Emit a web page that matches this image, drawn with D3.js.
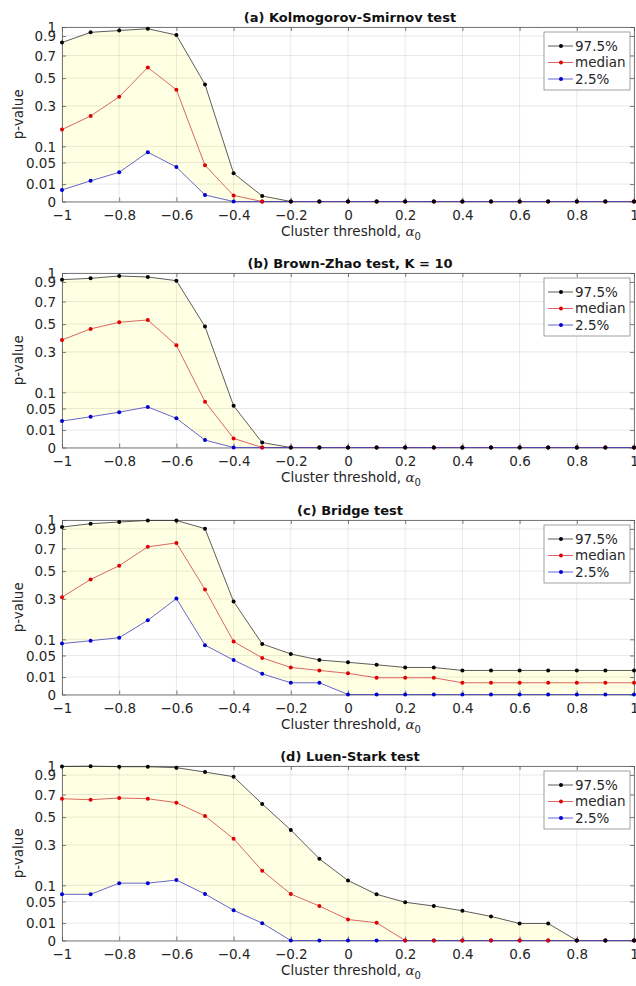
<!DOCTYPE html>
<html>
<head>
<meta charset="utf-8">
<script src="https://cdn.jsdelivr.net/npm/d3@7"></script>
<style>
	body { margin: 0; background: #fff; }
	svg { display: block; font-family: "DejaVu Sans", sans-serif; }
</style>
</head>
<body>
<div id="chart"></div>
<script>
	// cluster thresholds (x values)
	var thresholds = [-1, -0.9, -0.8, -0.7, -0.6, -0.5, -0.4, -0.3, -0.2, -0.1, 0,
		0.1, 0.2, 0.3, 0.4, 0.5, 0.6, 0.7, 0.8, 0.9, 1];

	var xTicks = [-1, -0.8, -0.6, -0.4, -0.2, 0, 0.2, 0.4, 0.6, 0.8, 1];
	var yTicks = [0, 0.01, 0.05, 0.1, 0.3, 0.5, 0.7, 0.9, 1];
	var seriesNames = ['97.5%', 'median', '2.5%'];

	// (a) Kolmogorov-Smirnov
	var ksUpper = [0.83, 0.94, 0.96, 0.98, 0.91, 0.45, 0.026, 0.001, 0, 0, 0, 0, 0, 0, 0, 0, 0, 0, 0, 0, 0];
	var ksMedian = [0.17, 0.24, 0.36, 0.59, 0.41, 0.043, 0.0012, 0, 0, 0, 0, 0, 0, 0, 0, 0, 0, 0, 0, 0, 0];
	var ksLower = [0.0044, 0.014, 0.028, 0.08, 0.039, 0.0014, 0, 0, 0, 0, 0, 0, 0, 0, 0, 0, 0, 0, 0, 0, 0];

	// (b) Brown-Zhao
	var bzUpper = [0.925, 0.94, 0.966, 0.955, 0.914, 0.48, 0.057, 0.0008, 0, 0, 0, 0, 0, 0, 0, 0, 0, 0, 0, 0, 0];
	var bzMedian = [0.38, 0.462, 0.515, 0.534, 0.343, 0.069, 0.0027, 0, 0, 0, 0, 0, 0, 0, 0, 0, 0, 0, 0, 0, 0];
	var bzLower = [0.023, 0.031, 0.041, 0.054, 0.028, 0.0018, 0, 0, 0, 0, 0, 0, 0, 0, 0, 0, 0, 0, 0, 0, 0];

	// (c) Bridge
	var brUpper = [0.921, 0.958, 0.977, 0.995, 0.995, 0.903, 0.284, 0.084, 0.054, 0.039, 0.034,
		0.029, 0.024, 0.024, 0.019, 0.019, 0.019, 0.019, 0.019, 0.019, 0.019];
	var brMedian = [0.311, 0.435, 0.545, 0.716, 0.755, 0.362, 0.092, 0.044, 0.024, 0.019, 0.0147,
		0.0092, 0.0092, 0.0092, 0.0045, 0.0045, 0.0045, 0.0045, 0.0045, 0.0045, 0.0045];
	var brLower = [0.085, 0.095, 0.106, 0.181, 0.302, 0.08, 0.039, 0.014, 0.0045, 0.0045, 0,
		0, 0, 0, 0, 0, 0, 0, 0, 0, 0];

	// (d) Luen-Stark
	var lsUpper = [0.995, 0.998, 0.992, 0.992, 0.981, 0.932, 0.881, 0.612, 0.401, 0.219, 0.118,
		0.07, 0.048, 0.039, 0.029, 0.019, 0.0095, 0.0095, 0, 0, 0];
	var lsMedian = [0.66, 0.651, 0.667, 0.66, 0.624, 0.509, 0.34, 0.16, 0.071, 0.039, 0.0145,
		0.0103, 0, 0, 0, 0, 0, 0, 0, 0, 0];
	var lsLower = [0.07, 0.07, 0.108, 0.108, 0.12, 0.071, 0.03, 0.0099, 0, 0, 0,
		0, 0, 0, 0, 0, 0, 0, 0, 0, 0];

	var panelTitles = ['(a) Kolmogorov-Smirnov test', '(b) Brown-Zhao test, K = 10', '(c) Bridge test', '(d) Luen-Stark test'];
	var panelSeries = [
		[ksUpper, ksMedian, ksLower],
		[bzUpper, bzMedian, bzLower],
		[brUpper, brMedian, brLower],
		[lsUpper, lsMedian, lsLower]
	];

	var width = 636,
		height = 986,
		left = 62,
		right = 634,
		plotHeight = 174.5,
		panelTops = [27, 273, 520, 766],
		colors = ['#000000', '#e00000', '#0000d0'],
		lineColors = ['#333333', '#d04040', '#4040c0'];

	var svg = d3.select('#chart').append('svg')
		.attr('width', width)
		.attr('height', height);

	var x = d3.scaleLinear().domain([-1, 1]).range([left, right]);

	panelTitles.forEach(function (title, p) {
		var top = panelTops[p],
			bottom = top + plotHeight,
			series = panelSeries[p];

		var y = d3.scaleSqrt().domain([0, 1]).range([bottom, top]);

		var g = svg.append('g');

		// band between 2.5% and 97.5%
		var area = d3.area()
			.x(function (d, i) { return x(thresholds[i]); })
			.y0(function (d, i) { return y(series[2][i]); })
			.y1(function (d) { return y(d); });

		g.append('path')
			.datum(series[0])
			.attr('d', area)
			.attr('fill', '#ffffe3');

		// grid
		g.selectAll('line.gx').data(xTicks).enter().append('line')
			.attr('x1', function (d) { return x(d); })
			.attr('x2', function (d) { return x(d); })
			.attr('y1', top).attr('y2', bottom)
			.attr('stroke', '#262626').attr('stroke-opacity', 0.13).attr('stroke-width', 0.8);
		g.selectAll('line.gy').data(yTicks).enter().append('line')
			.attr('y1', function (d) { return y(d); })
			.attr('y2', function (d) { return y(d); })
			.attr('x1', left).attr('x2', right)
			.attr('stroke', '#262626').attr('stroke-opacity', 0.13).attr('stroke-width', 0.8);

		// axes (box with inward ticks)
		var axisColor = '#5a5a5a';
		var bottomAxis = g.append('g')
			.attr('transform', 'translate(0,' + bottom + ')')
			.call(d3.axisBottom(x).tickValues(xTicks).tickSizeInner(-4).tickSizeOuter(0).tickPadding(9)
				.tickFormat(function (d) { return d3.format('')(+d.toFixed(1)); }));
		var topAxis = g.append('g')
			.attr('transform', 'translate(0,' + top + ')')
			.call(d3.axisTop(x).tickValues(xTicks).tickSizeInner(-4).tickSizeOuter(0).tickFormat(''));
		var leftAxis = g.append('g')
			.attr('transform', 'translate(' + left + ',0)')
			.call(d3.axisLeft(y).tickValues(yTicks).tickSizeInner(-4).tickSizeOuter(0).tickPadding(6)
				.tickFormat(function (d) { return String(d); }));
		var rightAxis = g.append('g')
			.attr('transform', 'translate(' + right + ',0)')
			.call(d3.axisRight(y).tickValues(yTicks).tickSizeInner(-4).tickSizeOuter(0).tickFormat(''));

		[bottomAxis, topAxis, leftAxis, rightAxis].forEach(function (a) {
			a.select('.domain').attr('stroke', axisColor).attr('stroke-width', 0.8);
			a.selectAll('.tick line').attr('stroke', axisColor).attr('stroke-width', 0.8);
			a.selectAll('text').attr('fill', '#262626').style('font-size', '13.5px')
				.style('font-family', '"DejaVu Sans", sans-serif');
		});
		leftAxis.selectAll('text').attr('dy', '0.36em');

		// lines and markers
		series.forEach(function (vals, s) {
			var line = d3.line()
				.x(function (d, i) { return x(thresholds[i]); })
				.y(function (d) { return y(d); });
			g.append('path')
				.datum(vals)
				.attr('d', line)
				.attr('fill', 'none')
				.attr('stroke', lineColors[s])
				.attr('stroke-width', 0.8);
		});
		series.slice().reverse().forEach(function (vals, r) {
			var s = 2 - r;
			g.selectAll(null).data(vals).enter().append('circle')
				.attr('cx', function (d, i) { return x(thresholds[i]); })
				.attr('cy', function (d) { return y(d); })
				.attr('r', 2)
				.attr('fill', colors[s]);
		});

		// title
		g.append('text')
			.attr('x', (left + right) / 2 + 2)
			.attr('y', top - 5)
			.attr('text-anchor', 'middle')
			.style('font-size', '13px')
			.style('font-weight', 'bold')
			.attr('fill', '#111')
			.text(title);

		// y label
		g.append('text')
			.attr('transform', 'translate(23,' + (top + plotHeight / 2) + ') rotate(-90)')
			.attr('text-anchor', 'middle')
			.style('font-size', '13.5px')
			.attr('fill', '#262626')
			.text('p-value');

		// x label
		var xl = g.append('text')
			.attr('x', (left + right) / 2 + 3)
			.attr('y', bottom + 34)
			.attr('text-anchor', 'middle')
			.style('font-size', '13.5px')
			.attr('fill', '#262626');
		xl.append('tspan').text('Cluster threshold, ');
		xl.append('tspan').style('font-family', '"DejaVu Serif", serif').style('font-style', 'italic').text('α');
		xl.append('tspan').attr('dy', 4).style('font-size', '10px').text('0');

		// legend
		var lg = g.append('g').attr('transform', 'translate(544,' + (top + 5) + ')');
		lg.append('rect')
			.attr('width', 86).attr('height', 58)
			.attr('fill', '#fff')
			.attr('stroke', '#8a8a8a').attr('stroke-width', 0.8);
		seriesNames.forEach(function (name, s) {
			var yy = 14 + s * 16.5;
			lg.append('line')
				.attr('x1', 4).attr('x2', 29).attr('y1', yy).attr('y2', yy)
				.attr('stroke', lineColors[s]).attr('stroke-width', 0.8);
			lg.append('circle').attr('cx', 17).attr('cy', yy).attr('r', 2).attr('fill', colors[s]);
			lg.append('text')
				.attr('x', 31).attr('y', yy).attr('dy', '0.36em')
				.style('font-size', '13.5px')
				.attr('fill', '#262626')
				.text(name);
		});
	});
</script>
</body>
</html>
